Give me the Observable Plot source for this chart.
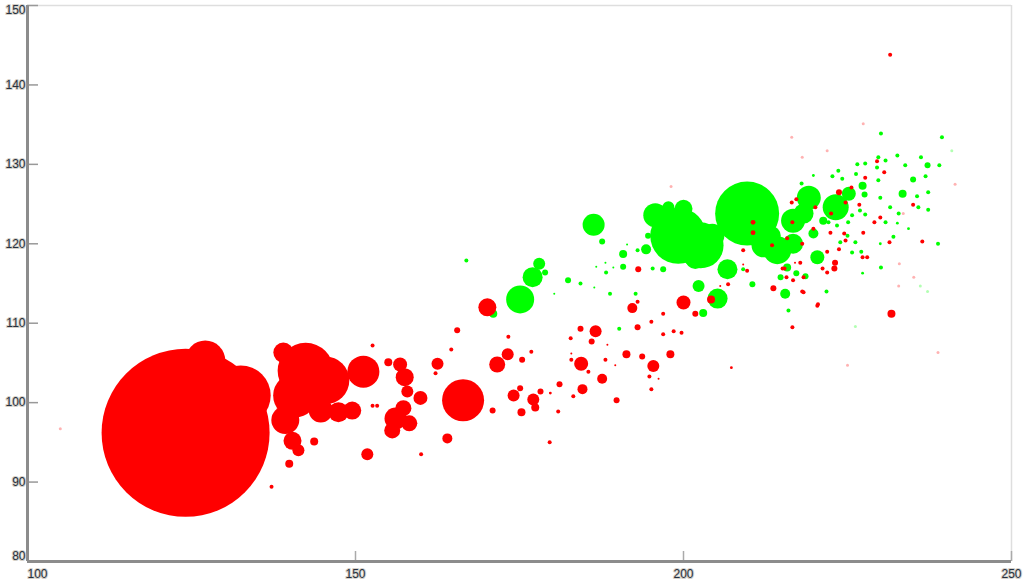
<!DOCTYPE html>
<html>
<head>
<meta charset="utf-8">
<script src="https://cdn.jsdelivr.net/npm/d3@7"></script>
<script src="https://cdn.jsdelivr.net/npm/@observablehq/plot@0.6"></script>
<style>
  html, body { margin: 0; padding: 0; background: #fff; }
  #chart { width: 1024px; height: 582px; }
</style>
</head>
<body>
<div id="chart"></div>
<script>
// ---- axis ticks ----
const xTicks = [100, 150, 200, 250];
const yTicks = [80, 90, 100, 110, 120, 130, 140, 150];

// ---- red series (x, y, size) ----
const redX = [124.1,127.1,132.5,139.0,142.4,145.4,140.8,144.7,147.4,149.5,139.3,140.4,141.3,151.2,155.0,156.8,157.5,157.9,159.9,162.5,162.2,156.1,157.3,158.2,155.6,152.6,153.3,151.8,143.7,139.9,137.2,160.0,152.6,164.0,166.4,170.1,165.5,164.6,171.6,173.2,175.4,176.8,173.3,174.1,175.1,177.1,178.2,177.4,175.3,170.9,179.7,181.1,180.9,179.6,183.2,184.4,185.5,182.9,182.9,182.8,184.3,186.6,186.0,188.4,188.1,189.6,187.6,184.6,189.8,191.3,193.7,195.4,194.8,195.1,196.2,198.0,192.2,193.0,193.0,195.1,196.9,198.5,199.7,196.9,200.0,201.8,204.2,193.1,206.8,205.6,209.1,209.7,209.1,213.7,215.4,218.1,217.0,220.4,231.5,231.7,216.6,229.5,230.6,227.7,225.6,223.7,224.7,222.5,226.8,229.1,230.0,235.0,236.4,231.4,227.4,224.5,224.7,222.4,221.9,223.7,223.1,223.0,221.9,221.2,227.3,228.0,218.3,220.5,217.2,220.1,216.6,219.8,217.8,218.3,216.7,215.7,215.1,207.3,210.6,210.6,213.5,215.8,216.5,218.1];
const redY = [96.2,105.3,100.9,106.3,104.0,102.8,100.9,99.0,98.8,99.0,97.8,95.2,94.0,103.9,105.1,104.8,103.2,101.4,100.6,104.9,103.7,98.0,99.3,97.4,96.5,99.6,99.6,93.5,95.1,92.3,89.4,93.5,107.2,95.5,100.3,112.0,109.1,106.7,104.8,106.1,105.4,106.4,108.3,100.9,101.8,100.4,101.4,99.4,98.8,99.0,101.2,102.3,98.9,95.0,100.8,104.9,103.9,105.4,106.2,108.1,109.3,109.0,107.7,107.3,105.4,104.7,103.0,101.7,100.3,106.1,105.8,104.6,103.3,101.7,103.0,106.1,111.9,112.7,109.5,110.2,111.2,109.0,108.8,108.6,112.6,111.2,113.0,116.8,114.9,114.7,117.4,116.6,119.2,114.4,116.9,114.0,117.6,112.2,143.8,111.2,109.5,130.4,129.0,128.3,127.1,126.5,125.2,123.8,124.9,122.7,123.3,124.9,120.3,120.2,121.4,121.3,120.4,121.4,119.0,119.3,117.6,116.9,116.4,116.9,118.3,118.3,113.9,112.4,125.6,124.6,122.7,121.9,117.6,115.8,115.4,115.8,116.9,104.4,122.7,121.4,119.8,120.7,125.2,120.0];
const redSize = [7056,400,900,100,784,576,484,144,100,81,196,81,36,256,16,49,81,36,49,36,4,121,64,64,64,4,4,36,16,16,4,4,4,25,441,81,9,4,64,36,9,4,4,36,9,36,9,16,16,9,2,9,4,4,4,49,4,4,1,4,9,36,9,1,4,1,25,25,9,16,9,36,4,4,1,16,25,4,9,4,4,4,4,4,49,9,16,9,4,1,1,4,4,9,4,4,1,4,4,16,4,4,4,4,4,9,4,4,4,4,4,4,4,4,4,4,4,4,4,4,9,9,4,4,4,4,4,4,4,4,4,4,4,4,4,4,4,2,6,6,4,4,4,4];

// ---- green series (x, y, size) ----
const greenX = [186.3,187.6,194.6,194.3,193.0,190.8,190.8,188.2,196.9,195.3,202.3,205.2,203.0,206.7,210.5,209.1,215.8,214.8,217.2,215.5,218.6,220.4,216.0,190.2,204.9,175.1,177.0,178.0,178.9,171.0,166.9,182.4,184.3,180.3,186.4,188.8,189.3,188.1,186.7,191.4,192.7,195.7,200.0,199.2,202.6,204.4,201.8,197.7,209.7,214.3,212.2,216.7,216.7,218.3,219.1,223.2,225.2,227.3,219.8,221.3,213.3,233.4,235.0,227.6,232.6,230.1,239.4,236.2,237.2,239.0,236.9,233.8,229.5,230.8,229.7,227.7,226.5,223.6,222.7,219.8,224.2,218.0,226.3,229.7,235.6,237.3,237.3,235.8,231.5,232.8,232.6,234.3,232.0,230.0,230.8,230.0,226.9,227.7,225.7,238.8,230.1,227.1,225.7,226.2,225.0,223.9,223.4,222.1,225.1,227.3,221.8];
const greenY = [122.4,120.3,121.0,119.3,119.2,118.7,117.1,116.4,116.8,116.9,114.7,113.1,111.3,116.8,114.9,116.8,117.0,115.8,116.3,113.7,115.9,118.3,111.6,109.3,112.5,113.0,115.8,117.5,116.4,111.2,117.9,115.4,115.0,113.7,114.5,113.7,117.0,117.6,117.1,119.9,113.7,123.6,124.4,121.0,119.8,121.0,118.1,124.6,123.8,119.2,119.8,120.0,122.9,123.8,125.8,124.6,126.3,127.3,121.3,122.9,121.0,126.3,128.1,126.2,131.1,133.9,133.4,130.9,129.9,129.9,128.5,129.9,129.6,130.5,130.9,130.1,130.0,129.2,128.5,128.6,128.2,127.6,128.8,128.0,126.0,126.5,124.3,124.6,124.6,123.8,122.6,121.9,120.9,120.0,122.7,125.8,124.2,123.7,123.6,120.0,117.0,119.0,118.9,120.2,121.0,120.2,122.3,122.7,122.7,116.3,114.0];
const greenSize = [121,9,9,25,4,16,9,4,9,4,36,100,16,100,9,4,16,9,9,25,9,49,4,4,16,196,100,36,9,16,4,9,4,1,1,4,1,1,1,1,4,144,81,784,529,144,100,36,1024,196,144,100,144,100,144,169,49,16,25,16,100,16,9,9,4,4,4,4,9,4,4,4,4,4,4,4,4,4,4,2,4,4,4,4,4,4,4,4,4,4,2,2,4,2,4,4,4,4,4,4,4,4,4,4,4,4,4,4,4,2,4];

// ---- faint (semi-transparent) small points ----
const faintRedX = [105.0,216.5,227.4,221.9,218.1,241.4,238.8,225.0,232.8,235.1,232.9,233.5,198.1];
const faintRedY = [96.7,133.4,135.1,131.7,130.9,127.5,106.3,104.7,114.7,115.8,117.5,123.8,127.2];
const faintGreenX = [240.9,226.2,236.1,237.2];
const faintGreenY = [131.7,109.6,114.7,114.0];

const xDomain = [100, 250];
const yDomain = [80, 150];

const red = redX.map((x, i) => ({x, y: redY[i], s: redSize[i]}));
const green = greenX.map((x, i) => ({x, y: greenY[i], s: greenSize[i]}));
const faintRed = faintRedX.map((x, i) => ({x, y: faintRedY[i]}));
const faintGreen = faintGreenX.map((x, i) => ({x, y: faintGreenY[i]}));

const W = 1024, H = 582, mL = 27, mR = 13, mT = 5, mB = 21;
const tickLenX = (xDomain[1] - xDomain[0]) * 11 / (W - mL - mR);
const tickLenY = (yDomain[1] - yDomain[0]) * 10 / (H - mT - mB);

const labelStyle = {fontSize: 12, fontFamily: "Liberation Sans, Arial, sans-serif", fill: "#27303f", stroke: "#d4d0c8", strokeWidth: 2};

const yMid = yTicks.filter(d => d !== yDomain[0] && d !== yDomain[1]);
const xRest = xTicks.filter(d => d !== xDomain[0]);

const chart = Plot.plot({
  width: W, height: H,
  marginLeft: mL, marginRight: mR, marginTop: mT, marginBottom: mB,
  x: {domain: xDomain, axis: null},
  y: {domain: yDomain, axis: null},
  r: {type: "sqrt", domain: [0, 7056], range: [0, 84]},
  style: {background: "#fff", overflow: "visible"},
  marks: [
    Plot.ruleY([yDomain[1]], {stroke: "#dedede", strokeWidth: 1.5}),
    Plot.ruleX([xDomain[1]], {stroke: "#dedede", strokeWidth: 1.5}),
    Plot.dot(faintGreen, {x: "x", y: "y", r: 1.5, fill: "#00ff00", fillOpacity: 0.3}),
    Plot.dot(faintRed, {x: "x", y: "y", r: 1.5, fill: "#ff0000", fillOpacity: 0.3}),
    Plot.dot(green, {x: "x", y: "y", r: "s", fill: "#00ff00"}),
    Plot.dot(red, {x: "x", y: "y", r: "s", fill: "#ff0000"}),
    Plot.ruleY(yTicks, {y: d => d, x1: xDomain[0], x2: xDomain[0] + tickLenX, stroke: "#999", strokeWidth: 1.5}),
    Plot.ruleX(xTicks, {x: d => d, y1: yDomain[0], y2: yDomain[0] + tickLenY, stroke: "#aaa", strokeWidth: 1.5}),
    Plot.ruleX([xDomain[0]], {stroke: "#8c8c8c", strokeWidth: 3}),
    Plot.ruleY([yDomain[0]], {stroke: "#8c8c8c", strokeWidth: 3}),
    Plot.text(yMid, {x: xDomain[0], y: d => d, text: d => String(d), textAnchor: "end", dx: -2, ...labelStyle}),
    Plot.text([yDomain[0]], {x: xDomain[0], y: d => d, text: d => String(d), textAnchor: "end", dx: -2, dy: -5, ...labelStyle}),
    Plot.text([yDomain[1]], {x: xDomain[0], y: d => d, text: d => String(d), textAnchor: "end", dx: -2, dy: 5, ...labelStyle}),
    Plot.text(xRest, {x: d => d, y: yDomain[0], text: d => String(d), dy: 13, ...labelStyle}),
    Plot.text([xDomain[0]], {x: d => d, y: yDomain[0], text: d => String(d), dy: 13, dx: 10, ...labelStyle})
  ]
});
document.getElementById("chart").appendChild(chart);
</script>
</body>
</html>
